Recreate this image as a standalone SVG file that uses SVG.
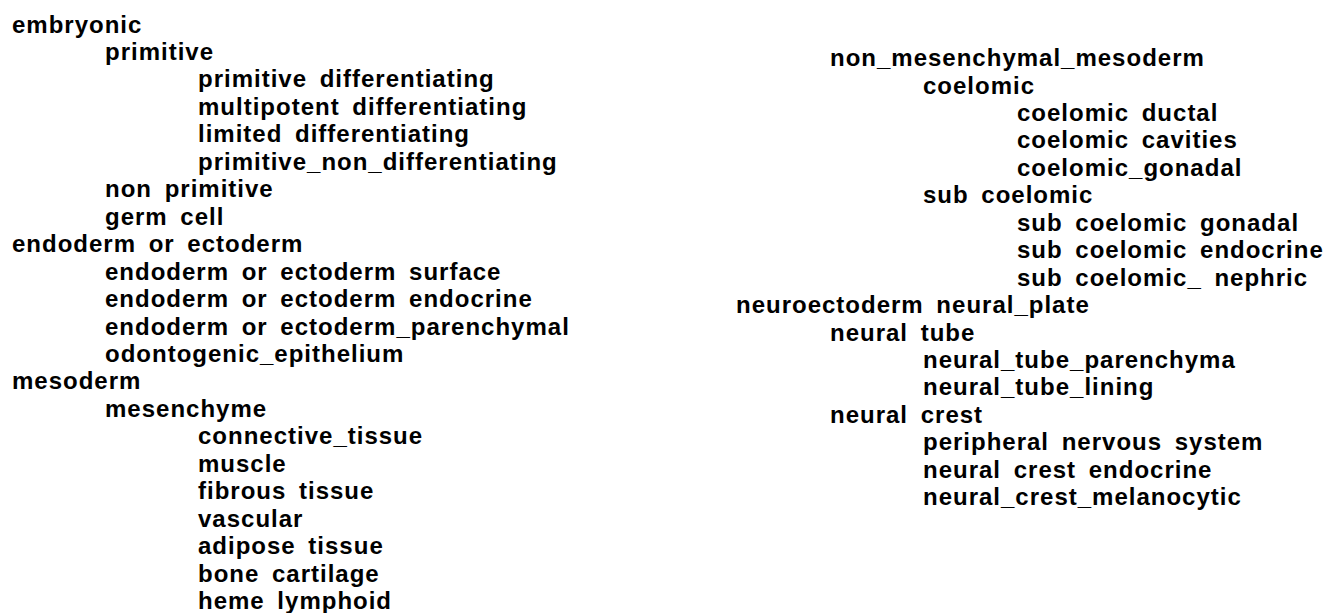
<svg xmlns="http://www.w3.org/2000/svg" width="1325" height="613" viewBox="0 0 1325 613">
<style>
text{font-family:"Liberation Sans",Arial,sans-serif;font-weight:bold;font-size:24px;letter-spacing:1px;word-spacing:5px;fill:#000}
</style>
<rect width="1325" height="613" fill="#ffffff"/>
<g id="connectors"/>
<g id="n-embryonic"><text x="12" y="32.5">embryonic</text></g>
<g id="n-primitive"><text x="105" y="60">primitive</text></g>
<g id="n-primitive-differentiating"><text x="198" y="87.4">primitive differentiating</text></g>
<g id="n-multipotent-differentiating"><text x="198" y="114.9">multipotent differentiating</text></g>
<g id="n-limited-differentiating"><text x="198" y="142.3">limited differentiating</text></g>
<g id="n-primitive-non-differentiating"><text x="198" y="169.8">primitive_non_differentiating</text></g>
<g id="n-non-primitive"><text x="105" y="197.2">non primitive</text></g>
<g id="n-germ-cell"><text x="105" y="224.7">germ cell</text></g>
<g id="n-endoderm-or-ectoderm"><text x="12" y="252.1">endoderm or ectoderm</text></g>
<g id="n-eoe-surface"><text x="105" y="279.6">endoderm or ectoderm surface</text></g>
<g id="n-eoe-endocrine"><text x="105" y="307">endoderm or ectoderm endocrine</text></g>
<g id="n-eoe-parenchymal"><text x="105" y="334.5">endoderm or ectoderm_parenchymal</text></g>
<g id="n-odontogenic-epithelium"><text x="105" y="361.9">odontogenic_epithelium</text></g>
<g id="n-mesoderm"><text x="12" y="389.4">mesoderm</text></g>
<g id="n-mesenchyme"><text x="105" y="416.8">mesenchyme</text></g>
<g id="n-connective-tissue"><text x="198" y="444.3">connective_tissue</text></g>
<g id="n-muscle"><text x="198" y="471.7">muscle</text></g>
<g id="n-fibrous-tissue"><text x="198" y="499.2">fibrous tissue</text></g>
<g id="n-vascular"><text x="198" y="526.6">vascular</text></g>
<g id="n-adipose-tissue"><text x="198" y="554.1">adipose tissue</text></g>
<g id="n-bone-cartilage"><text x="198" y="581.5">bone cartilage</text></g>
<g id="n-heme-lymphoid"><text x="198" y="609">heme lymphoid</text></g>
<g id="n-non-mesenchymal-mesoderm"><text x="830" y="66">non_mesenchymal_mesoderm</text></g>
<g id="n-coelomic"><text x="923" y="93.5">coelomic</text></g>
<g id="n-coelomic-ductal"><text x="1017" y="120.9">coelomic ductal</text></g>
<g id="n-coelomic-cavities"><text x="1017" y="148.4">coelomic cavities</text></g>
<g id="n-coelomic-gonadal"><text x="1017" y="175.8">coelomic_gonadal</text></g>
<g id="n-sub-coelomic"><text x="923" y="203.3">sub coelomic</text></g>
<g id="n-sub-coelomic-gonadal"><text x="1017" y="230.7">sub coelomic gonadal</text></g>
<g id="n-sub-coelomic-endocrine"><text x="1017" y="258.2">sub coelomic endocrine</text></g>
<g id="n-sub-coelomic-nephric"><text x="1017" y="285.6">sub coelomic_ nephric</text></g>
<g id="n-neuroectoderm"><text x="736" y="313.1">neuroectoderm neural_plate</text></g>
<g id="n-neural-tube"><text x="830" y="340.5">neural tube</text></g>
<g id="n-neural-tube-parenchyma"><text x="923" y="368">neural_tube_parenchyma</text></g>
<g id="n-neural-tube-lining"><text x="923" y="395.4">neural_tube_lining</text></g>
<g id="n-neural-crest"><text x="830" y="422.9">neural crest</text></g>
<g id="n-peripheral-nervous-system"><text x="923" y="450.3">peripheral nervous system</text></g>
<g id="n-neural-crest-endocrine"><text x="923" y="477.8">neural crest endocrine</text></g>
<g id="n-neural-crest-melanocytic"><text x="923" y="505.2">neural_crest_melanocytic</text></g>
</svg>
